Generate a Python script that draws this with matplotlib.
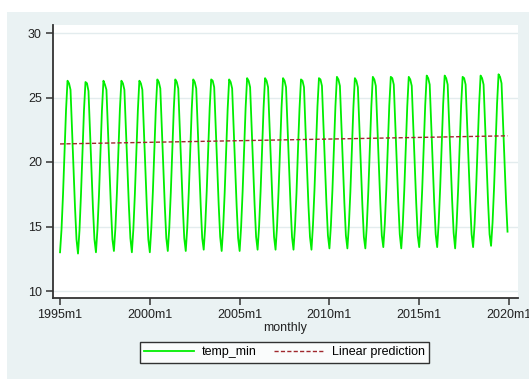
import matplotlib
matplotlib.use("Agg")
import matplotlib.pyplot as plt
from matplotlib.patches import Rectangle
import numpy as np

plt.rcParams['font.family'] = ['Liberation Sans', 'DejaVu Sans']

# monthly temp_min, 1995m1 .. 2019m12 (one row per year, Jan..Dec)
t1995 = [13.0, 14.8, 17.5, 20.8, 24.0, 26.3, 26.1, 25.6, 22.5, 19.5, 16.5, 14.0]
t1996 = [12.9, 14.7, 17.5, 20.7, 24.0, 26.2, 26.1, 25.5, 22.4, 19.5, 16.4, 14.0]
t1997 = [13.0, 14.8, 17.4, 20.8, 24.0, 26.3, 26.0, 25.6, 22.5, 19.5, 16.5, 14.0]
t1998 = [13.1, 14.9, 17.6, 20.9, 24.1, 26.3, 26.1, 25.6, 22.6, 19.6, 16.6, 14.1]
t1999 = [13.0, 14.8, 17.5, 20.8, 24.0, 26.3, 26.1, 25.6, 22.5, 19.5, 16.5, 14.0]
t2000 = [13.0, 14.9, 17.6, 20.9, 24.1, 26.4, 26.2, 25.7, 22.6, 19.6, 16.6, 14.1]
t2001 = [13.1, 14.9, 17.6, 20.9, 24.1, 26.4, 26.2, 25.7, 22.6, 19.6, 16.6, 14.1]
t2002 = [13.1, 14.9, 17.6, 20.9, 24.1, 26.4, 26.2, 25.7, 22.6, 19.6, 16.6, 14.1]
t2003 = [13.2, 15.0, 17.7, 21.0, 24.2, 26.4, 26.3, 25.8, 22.7, 19.7, 16.7, 14.2]
t2004 = [13.1, 14.9, 17.6, 20.9, 24.1, 26.4, 26.2, 25.7, 22.6, 19.6, 16.6, 14.1]
t2005 = [13.1, 15.0, 17.7, 21.0, 24.2, 26.5, 26.3, 25.8, 22.7, 19.7, 16.7, 14.2]
t2006 = [13.2, 15.0, 17.7, 21.0, 24.2, 26.5, 26.3, 25.8, 22.7, 19.7, 16.7, 14.2]
t2007 = [13.2, 15.0, 17.7, 21.0, 24.2, 26.5, 26.3, 25.8, 22.7, 19.7, 16.7, 14.2]
t2008 = [13.2, 15.0, 17.6, 21.0, 24.1, 26.4, 26.3, 25.8, 22.6, 19.7, 16.6, 14.2]
t2009 = [13.2, 15.1, 17.8, 21.1, 24.3, 26.5, 26.4, 25.9, 22.8, 19.8, 16.8, 14.3]
t2010 = [13.3, 15.1, 17.8, 21.1, 24.3, 26.6, 26.4, 25.9, 22.8, 19.8, 16.8, 14.3]
t2011 = [13.3, 15.1, 17.7, 21.0, 24.2, 26.5, 26.3, 25.8, 22.7, 19.7, 16.7, 14.2]
t2012 = [13.3, 15.1, 17.8, 21.1, 24.3, 26.6, 26.4, 25.9, 22.8, 19.8, 16.8, 14.3]
t2013 = [13.4, 15.2, 17.9, 21.2, 24.4, 26.6, 26.5, 26.0, 22.9, 19.9, 16.9, 14.4]
t2014 = [13.3, 15.1, 17.8, 21.1, 24.3, 26.6, 26.4, 25.9, 22.8, 19.8, 16.8, 14.3]
t2015 = [13.4, 15.2, 17.9, 21.2, 24.4, 26.7, 26.5, 26.0, 22.9, 19.9, 16.9, 14.4]
t2016 = [13.4, 15.3, 18.0, 21.3, 24.5, 26.7, 26.5, 26.0, 23.0, 20.0, 17.0, 14.5]
t2017 = [13.3, 15.2, 17.9, 21.2, 24.4, 26.6, 26.5, 26.0, 22.9, 19.9, 16.9, 14.4]
t2018 = [13.4, 15.2, 17.9, 21.2, 24.4, 26.7, 26.5, 26.0, 22.9, 19.9, 16.9, 14.4]
t2019 = [13.5, 15.3, 18.0, 21.3, 24.5, 26.8, 26.6, 26.1, 23.0, 20.0, 17.0, 14.6]

years_rows = [t1995, t1996, t1997, t1998, t1999, t2000, t2001, t2002, t2003,
              t2004, t2005, t2006, t2007, t2008, t2009, t2010, t2011, t2012,
              t2013, t2014, t2015, t2016, t2017, t2018, t2019]
temp_min = [v for row in years_rows for v in row]

# linear prediction endpoints (first and last month)
lp_values = [21.40, 22.03]

xtick_pos = [0, 60, 120, 180, 240, 300]
xtick_labels = ["1995m1", "2000m1", "2005m1", "2010m1", "2015m1", "2020m1"]
ytick_vals = [10, 15, 20, 25, 30]

W, H = 529, 379
fig = plt.figure(figsize=(W / 100, H / 100), dpi=100)
fig.patch.set_facecolor("white")
bg = "#eaf2f3"
fig.patches.append(Rectangle((7 / W, 0), 1 - 7 / W, 1 - 12 / H, transform=fig.transFigure,
                             facecolor=bg, edgecolor="none", zorder=-10))

ax = fig.add_axes([53 / W, 1 - 298 / H, (518 - 53) / W, (298 - 25) / H])
ax.set_facecolor("white")

months = np.arange(len(temp_min))
ax.plot(months, temp_min, color="#00ee00", lw=1.3, zorder=3, label="temp_min")
ax.plot([months[0], months[-1]], lp_values, color="#a0282d", lw=1.0,
        dashes=(3, 1.6), zorder=4, label="Linear prediction")

ax.set_xlim(-4.7, 306)
ax.set_ylim(30 - (298 - 33) / 12.9, 30 + (33 - 25) / 12.9)

ax.set_yticks(ytick_vals)
ax.set_xticks(xtick_pos)
ax.set_xticklabels(xtick_labels)
ax.grid(axis="y", color="#e3ecee", lw=1.0, zorder=0)
ax.grid(axis="x", visible=False)

for s in ["top", "right"]:
    ax.spines[s].set_visible(False)
for s in ["left", "bottom"]:
    ax.spines[s].set_color("#333333")
    ax.spines[s].set_linewidth(1.3)

ax.tick_params(axis="both", direction="out", length=5, width=1.1, color="#333333",
               labelsize=9, labelcolor="#222222", pad=3)
ax.set_xlabel("monthly", fontsize=9, color="#222222", labelpad=1)

leg = fig.legend(loc="center", bbox_to_anchor=(284.5 / W, 1 - 352.5 / H), ncol=2,
                 frameon=True, fancybox=False, fontsize=9, handlelength=4.0,
                 columnspacing=1.4, handletextpad=0.6, borderpad=0.35)
leg.get_frame().set_edgecolor("black")
leg.get_frame().set_linewidth(1.0)
leg.get_frame().set_facecolor("white")

fig.savefig("out.png", dpi=100, facecolor=fig.get_facecolor())
